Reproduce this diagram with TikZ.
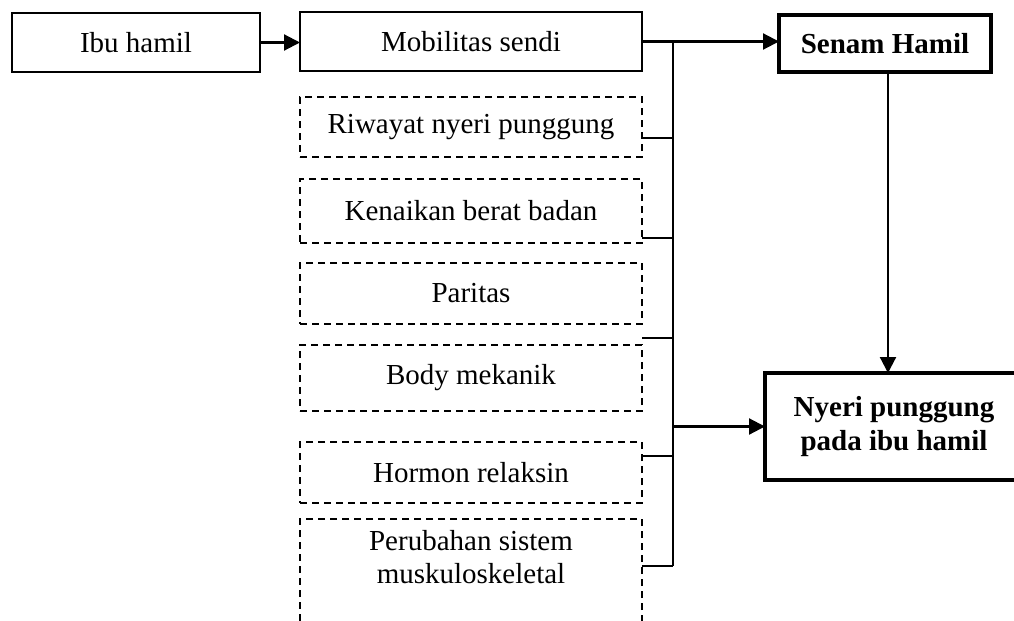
\documentclass[tikz,border=0pt]{standalone}
\usepackage{fontspec}
\setmainfont{Liberation Serif}
\usetikzlibrary{arrows.meta,calc}
\begin{document}
\begin{tikzpicture}[x=0.5pt,y=-0.5pt,
  every node/.style={font=\fontsize{14.5pt}{16.8pt}\selectfont, inner sep=0pt, outer sep=0pt, align=center},
  sbox/.style={draw, line width=0.8pt},
  dbox/.style={draw, line width=0.8pt, dash pattern=on 3.5pt off 2.5pt},
  tbox/.style={draw, line width=2pt, font=\fontsize{14.5pt}{16.8pt}\selectfont\bfseries},
  conn/.style={line width=1.1pt},
  arr/.style={conn, -{Triangle[length=8pt,width=8pt]}}
]
\useasboundingbox (0,0) rectangle (1014,621);
\node[sbox, minimum width=124pt, minimum height=29.5pt] (ibu) at (136,42.5) {Ibu hamil};
\node[sbox, minimum width=171pt, minimum height=29.5pt] (mob) at (471,41.5) {Mobilitas sendi};
\node[dbox, minimum width=171pt, minimum height=30pt] (riw) at (471,127) {Riwayat nyeri punggung};
\node[dbox, minimum width=171pt, minimum height=32pt] (ken) at (471,211) {Kenaikan berat badan};
\node[dbox, minimum width=171pt, minimum height=30.5pt] (par) at (471,293.5) {Paritas};
\node[dbox, minimum width=171pt, minimum height=33pt] (bod) at (471,378) {Body mekanik};
\node[dbox, minimum width=171pt, minimum height=30.5pt] (hor) at (471,472.5) {Hormon relaksin};
\node[dbox, minimum width=171pt, minimum height=60.5pt, anchor=north] (per) at (471,519) {};
\node (pert) at (471,557) {Perubahan sistem\\muskuloskeletal};
\node[tbox, minimum width=106pt, minimum height=28.5pt] (sen) at (885,43.5) {Senam Hamil};
\node[tbox, minimum width=129pt, minimum height=53.5pt] (nye) at (894,426.5) {Nyeri punggung\\pada ibu hamil};
\coordinate (bus) at (673,0);
\coordinate (s1) at ($(sen.south)+(3,0)$);
% arrows
\draw[arr] (ibu.east) -- (ibu.east -| mob.west);
\draw[arr] (mob.east) -- (mob.east -| sen.west);
% bus
\draw[conn] (mob.east -| bus) -- ($(per.north east -| bus)+(0,47)$);
\draw[conn] ($(riw.east)+(0,11)$) -- ($(riw.east -| bus)+(0,11)$);
\draw[conn] ($(ken.east)+(0,27)$) -- ($(ken.east -| bus)+(0,27)$);
\draw[conn] ($(par.east)+(0,44.5)$) -- ($(par.east -| bus)+(0,44.5)$);
\draw[conn] ($(hor.east)+(0,-16.5)$) -- ($(hor.east -| bus)+(0,-16.5)$);
\draw[conn] ($(per.north east)+(0,47)$) -- ($(per.north east -| bus)+(0,47)$);
\draw[arr] (nye.west -| bus) -- (nye.west);
\draw[arr] (s1) -- (s1 |- nye.north);
\end{tikzpicture}
\end{document}
